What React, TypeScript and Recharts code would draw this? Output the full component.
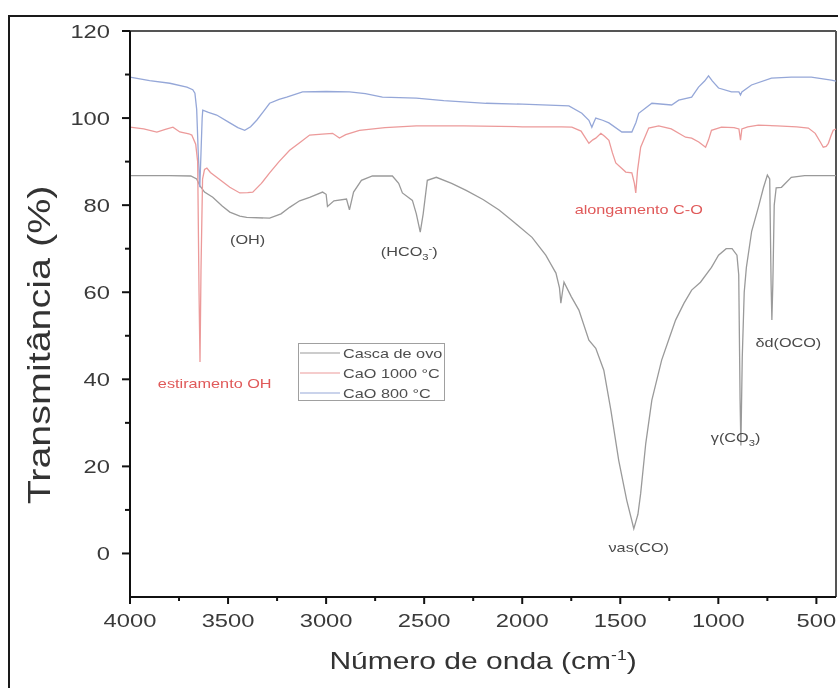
import React from "react";
import { LineChart, Line, XAxis, YAxis, ReferenceLine, ReferenceDot, Legend } from "recharts";

const FONT = '"Liberation Sans", Arial, Helvetica, sans-serif';

// Casca de ovo (eggshell)
const cascaWave = [4000, 3800, 3690, 3660, 3644, 3620, 3578, 3530, 3491, 3440, 3405, 3288, 3230, 3186, 3135, 3084, 3018, 3000, 2993, 2960, 2896, 2881, 2860, 2820, 2764, 2662, 2630, 2611, 2560, 2540, 2520, 2505, 2484, 2438, 2360, 2286, 2200, 2118, 2040, 1950, 1880, 1828, 1810, 1803, 1795, 1787, 1750, 1711, 1660, 1625, 1584, 1548, 1508, 1467, 1431, 1410, 1396, 1370, 1339, 1289, 1250, 1218, 1175, 1136, 1091, 1035, 999, 960, 930, 905, 896, 889, 885, 878, 868, 857, 830, 796, 770, 750, 738, 731, 727, 722, 715, 705, 678, 628, 560, 400];
const cascaT = [86.8, 86.8, 86.7, 86, 84.5, 83, 81.8, 79.8, 78.4, 77.5, 77.2, 77, 78, 79.5, 81, 81.8, 83, 82.5, 79.7, 81, 81.4, 78.9, 83, 85.7, 86.7, 86.7, 85, 82.8, 81.1, 78, 73.8, 78, 85.7, 86.4, 85, 83.4, 81.3, 78.9, 76, 72.6, 68.5, 64.4, 61, 57.5, 60, 62.3, 59, 55.9, 49, 47.1, 42.1, 32.9, 21.4, 12.2, 5.7, 9, 13.8, 25.3, 35.2, 44.4, 49.5, 53.6, 57.5, 60.5, 62.3, 65.7, 68.5, 70, 70, 68.5, 64, 35, 24.8, 45, 60, 65.7, 74, 79.5, 84, 86.9, 86, 62, 53.6, 62, 80, 84, 84.1, 86.4, 86.8, 86.8];

// CaO 1000 °C
const cao1000Wave = [4000, 3930, 3863, 3820, 3781, 3746, 3700, 3685, 3665, 3655, 3648, 3643, 3638, 3630, 3620, 3608, 3590, 3558, 3491, 3440, 3400, 3374, 3330, 3288, 3240, 3186, 3130, 3084, 3020, 2967, 2932, 2900, 2830, 2700, 2540, 2300, 2000, 1800, 1747, 1700, 1660, 1640, 1625, 1599, 1580, 1558, 1540, 1523, 1472, 1441, 1428, 1421, 1412, 1396, 1355, 1304, 1240, 1167, 1136, 1100, 1065, 1050, 1035, 984, 920, 895, 887, 880, 850, 796, 700, 600, 541, 506, 480, 465, 450, 439, 425, 414, 400];
const cao1000T = [97.9, 97.5, 96.8, 97.4, 97.9, 96.8, 96.4, 96.1, 94, 90, 60, 44, 65, 86, 88.2, 88.5, 87.5, 86.4, 84.1, 82.8, 82.9, 83, 85, 87.4, 90, 92.6, 94.5, 96.1, 96.3, 96.5, 95.4, 96.2, 97.2, 97.8, 98.2, 98.2, 98, 98, 97.9, 97, 94.2, 95, 95.4, 96.5, 95.8, 94.9, 92, 89.7, 87.6, 87.4, 85, 82.8, 88, 93.3, 97.7, 98.2, 97.5, 95.6, 95.4, 94.5, 93.3, 95, 97.2, 97.9, 97.8, 97.5, 94.9, 97.5, 98, 98.4, 98.2, 98, 97.7, 96.5, 94.5, 93.3, 93.5, 94.2, 96, 97.2, 97.5];

// CaO 800 °C
const cao800Wave = [4000, 3900, 3797, 3710, 3680, 3669, 3660, 3652, 3644, 3638, 3632, 3629, 3600, 3558, 3491, 3450, 3415, 3385, 3354, 3320, 3288, 3240, 3201, 3120, 3000, 2881, 2800, 2713, 2540, 2400, 2184, 2000, 1762, 1696, 1660, 1645, 1635, 1625, 1590, 1558, 1492, 1441, 1420, 1406, 1339, 1238, 1202, 1136, 1101, 1070, 1050, 1030, 999, 933, 895, 887, 880, 831, 729, 628, 526, 424, 400];
const cao800T = [109.4, 108.6, 108, 107.1, 106.5, 105.7, 102, 92, 84.1, 92, 100, 101.8, 101.3, 100.7, 98.9, 97.8, 97.2, 98, 99.5, 101.5, 103.4, 104.3, 104.8, 106, 106.1, 106, 105.6, 104.8, 104.6, 104, 103.4, 103.2, 102.8, 101.1, 99.5, 97.9, 99, 100, 99.5, 98.9, 96.8, 96.8, 99, 101.1, 103.4, 103, 104.1, 104.8, 107.1, 108.5, 109.7, 108.5, 106.9, 106, 106, 105.3, 106, 107.6, 109.2, 109.4, 109.4, 108.7, 108.5];

const seriesNames = ["Casca de ovo", "CaO 1000 °C", "CaO 800 °C"];
const seriesColors = ["#9a9a9a", "#ec9a9a", "#95a7d8"];

const xTicks = [4000, 3750, 3500, 3250, 3000, 2750, 2500, 2250, 2000, 1750, 1500, 1250, 1000, 750, 500];
const yTicks = [0, 10, 20, 30, 40, 50, 60, 70, 80, 90, 100, 110, 120];

// band labels: anchor in data units, text pieces (sub / sup)
const labelX = [3568, 3400, 2576, 1406, 643, 912, 1406];
const labelY = [39.1, 72, 69.4, 79.1, 48.5, 26.7, 1.4];
const labelParts = [
  [{ t: "estiramento OH" }],
  [{ t: "(OH)" }],
  [{ t: "(HCO" }, { t: "3", sub: true }, { t: "-", sup: true }, { t: ")" }],
  [{ t: "alongamento C-O" }],
  [{ t: "δd(OCO)" }],
  [{ t: "γ(CO" }, { t: "3", sub: true }, { t: ")" }],
  [{ t: "νas(CO)" }],
];
const labelRed = [true, false, false, true, false, false, false];

const toPoints = (w: number[], t: number[]) => w.map((x, i) => ({ x, y: t[i] }));
const cascaData = toPoints(cascaWave, cascaT);
const cao1000Data = toPoints(cao1000Wave, cao1000T);
const cao800Data = toPoints(cao800Wave, cao800T);

const XTick = (props: any) => {
  const { x, y, payload } = props;
  const major = payload.value % 500 === 0;
  return (
    <g>
      <line x1={x} x2={x} y1={y} y2={y + (major ? 7 : 4)} stroke="#111" strokeWidth={2} />
      {major && (
        <text transform={`translate(${x},${y + 30}) scale(1.25,1)`} textAnchor="middle" fontSize={19} fontFamily={FONT} fill="#3a3a3a">
          {payload.value}
        </text>
      )}
    </g>
  );
};

const YTick = (props: any) => {
  const { x, y, payload } = props;
  const major = payload.value % 20 === 0;
  return (
    <g>
      <line x1={x - (major ? 8 : 5)} x2={x} y1={y} y2={y} stroke="#111" strokeWidth={2} />
      {major && (
        <text transform={`translate(${x - 20},${y + 7}) scale(1.25,1)`} textAnchor="end" fontSize={19} fontFamily={FONT} fill="#3a3a3a">
          {payload.value}
        </text>
      )}
    </g>
  );
};

const BandLabel = ({ cx, cy, parts, red }: any) => (
  <text
    transform={`translate(${cx},${cy + 4.5}) scale(1.25,1)`}
    textAnchor="middle"
    fontSize={13}
    fontFamily={FONT}
    fill={red ? "#e05a5a" : "#4a4a4a"}
  >
    {parts.map((p: any, i: number) => {
      if (p.sub) return <tspan key={i} dy={4} fontSize={9}>{p.t}</tspan>;
      if (p.sup) return <tspan key={i} dy={-8} fontSize={9}>{p.t}</tspan>;
      const prev = parts[i - 1];
      const dy = prev ? (prev.sub ? -4 : prev.sup ? 4 : 0) : 0;
      return <tspan key={i} dy={dy}>{p.t}</tspan>;
    })}
  </text>
);

const LegendBox = (props: any) => {
  const items = props.payload || [];
  return (
    <svg width={148} height={60}>
      <rect x={0.5} y={0.5} width={146} height={57} fill="#fff" stroke="#a0a0a0" />
      {items.map((it: any, i: number) => {
        const cy = 10 + i * 20;
        return (
          <g key={it.value}>
            <line x1={2} x2={42} y1={cy} y2={cy} stroke={it.color} strokeWidth={1.2} />
            <text transform={`translate(45,${cy + 4.5}) scale(1.25,1)`} fontSize={13} fontFamily={FONT} fill="#4e4e4e">
              {it.value}
            </text>
          </g>
        );
      })}
    </svg>
  );
};

export default function App() {
  return (
    <div style={{ position: "fixed", left: 8, top: 8, width: 830, height: 680, fontFamily: FONT, overflow: "visible" }}>
      <div
        style={{
          position: "absolute",
          left: 0,
          top: 7,
          width: 830,
          height: 673,
          borderTop: "2px solid #1a1a1a",
          borderLeft: "2px solid #1a1a1a",
          boxSizing: "border-box",
        }}
      />
      <LineChart
        width={830}
        height={672}
        margin={{ top: 23, right: 2, left: 50, bottom: 43 }}
        style={{ position: "absolute", left: 0, top: 0 }}
      >
        <XAxis
          dataKey="x"
          type="number"
          domain={[400, 4000]}
          reversed
          ticks={xTicks}
          interval={0}
          height={40}
          tickSize={0}
          tickMargin={0}
          tickLine={false}
          tick={XTick}
          axisLine={{ stroke: "#111", strokeWidth: 2 }}
          allowDuplicatedCategory={false}
        />
        <YAxis
          type="number"
          domain={[-10, 120]}
          ticks={yTicks}
          interval={0}
          width={72}
          tickSize={0}
          tickMargin={0}
          tickLine={false}
          tick={YTick}
          axisLine={{ stroke: "#111", strokeWidth: 2 }}
        />
        <ReferenceLine y={120} stroke="#555" strokeWidth={2} />
        <ReferenceLine x={400} stroke="#555" strokeWidth={2} />
        <Line data={cascaData} dataKey="y" name={seriesNames[0]} stroke={seriesColors[0]} strokeWidth={1.3} dot={false} type="linear" isAnimationActive={false} />
        <Line data={cao800Data} dataKey="y" name={seriesNames[2]} stroke={seriesColors[2]} strokeWidth={1.3} dot={false} type="linear" isAnimationActive={false} />
        <Line data={cao1000Data} dataKey="y" name={seriesNames[1]} stroke={seriesColors[1]} strokeWidth={1.3} dot={false} type="linear" isAnimationActive={false} />
        {labelParts.map((parts, i) => (
          <ReferenceDot
            key={i}
            x={labelX[i]}
            y={labelY[i]}
            r={1}
            shape={(p: any) => <BandLabel cx={p.cx} cy={p.cy} parts={parts} red={labelRed[i]} />}
          />
        ))}
        <Legend
          layout="horizontal"
          verticalAlign="middle"
          align="center"
          content={(p: any) => {
            const order = seriesNames.map((n) => (p.payload || []).find((it: any) => it.value === n)).filter(Boolean);
            return <LegendBox payload={order} />;
          }}
          wrapperStyle={{ position: "absolute", left: 290, top: 335, width: 148, height: 60 }}
        />
      </LineChart>
      <svg width={830} height={680} style={{ position: "absolute", left: 0, top: 0, pointerEvents: "none" }}>
        <text transform="translate(475,661) scale(1.25,1)" textAnchor="middle" fontSize={24} fontFamily={FONT} fill="#333">
          Número de onda (cm<tspan dy={-9} fontSize={14}>-1</tspan><tspan dy={9}>)</tspan>
        </text>
        <text transform="translate(42,337) rotate(-90) scale(1.41,1.15)" textAnchor="middle" fontSize={28} fontFamily={FONT} fill="#333">
          Transmitância (%)
        </text>
      </svg>
    </div>
  );
}
